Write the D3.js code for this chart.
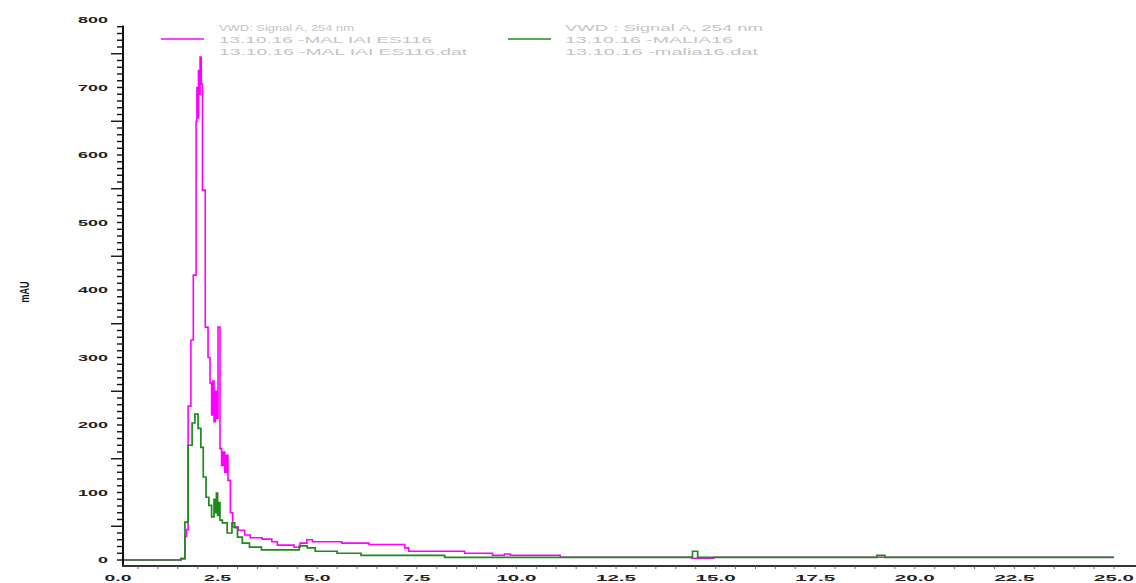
<!DOCTYPE html>
<html>
<head>
<meta charset="utf-8">
<script src="https://cdn.jsdelivr.net/npm/d3@7"></script>
<style>
    body { margin: 0; background: #fff; }
    text { font-family: "Liberation Sans", Arial, sans-serif; }
</style>
</head>
<body>
<div id="chart"></div>
<script>

// Chromatogram traces (retention time in min, absorbance in mAU)
const timeMagenta = [0.13, 1.58, 1.68, 1.72, 1.76, 1.83, 1.89, 1.96, 1.98, 2.00, 2.02, 2.04, 2.06, 2.09, 2.12,
    2.19, 2.26, 2.31, 2.35, 2.38, 2.41, 2.44, 2.47, 2.51, 2.56, 2.60, 2.64, 2.68, 2.72, 2.76, 2.82, 2.88,
    3.02, 3.18, 3.32, 3.62, 3.86, 4.00, 4.42, 4.57, 4.74, 4.88, 5.27, 5.62, 6.30, 7.20, 7.30, 8.70, 9.40,
    9.70, 9.85, 11.10, 14.40, 14.95, 25.0];
const valueMagenta = [0, 2, 35, 45, 228, 326, 422, 650, 700, 655, 725, 690, 745, 705, 548,
    345, 300, 262, 215, 265, 205, 250, 210, 345, 165, 140, 160, 130, 155, 118, 70, 49,
    44, 37, 33, 31, 27, 22, 19, 25, 30, 27, 27, 25, 23, 18, 13, 10, 7,
    9, 7, 4, 2.5, 4, 4];

const timeGreen = [0.13, 1.58, 1.68, 1.76, 1.86, 1.93, 2.01, 2.08, 2.14, 2.21, 2.28, 2.35, 2.38, 2.41, 2.44,
    2.47, 2.50, 2.53, 2.56, 2.62, 2.74, 2.86, 2.93, 3.00, 3.12, 3.30, 3.60, 4.55, 4.75, 4.95, 5.50, 6.10,
    8.20, 14.42, 14.55, 19.05, 19.25, 25.0];
const valueGreen = [0, 2, 56, 170, 203, 216, 195, 167, 123, 93, 81, 64, 64, 90, 70,
    99, 66, 85, 59, 55, 40, 55, 48, 34, 25, 19, 15, 21, 18, 13, 10, 7,
    4, 13, 4, 7, 4, 4];

// Axis labels
const xTickValues = [0, 2.5, 5, 7.5, 10, 12.5, 15, 17.5, 20, 22.5, 25];
const yTickValues = [0, 100, 200, 300, 400, 500, 600, 700, 800];

// Legend entries
const legendMagenta = ["VWD: Signal A, 254 nm", "13.10.16 -MAL IAI ES116", "13.10.16 -MAL IAI ES116.dat"];
const legendGreen = ["VWD : Signal A, 254 nm", "13.10.16 -MALIA16", "13.10.16 -malia16.dat"];


let width = 1136, height = 583;

let svg = d3.select("#chart").append("svg")
    .attr("width", width)
    .attr("height", height);

// Scales
let x = d3.scaleLinear().domain([0, 25]).range([118, 1114]);
let y = d3.scaleLinear().domain([0, 800]).range([560, 20]);

let axisX = 123, axisY = 566;

// Traces
let line = d3.line()
    .x(d => x(d[0]))
    .y(d => y(d[1]))
    .curve(d3.curveStepAfter);

svg.append("path")
    .datum(d3.zip(timeMagenta, valueMagenta))
    .attr("fill", "none")
    .attr("stroke", "#ff00ff")
    .attr("stroke-width", 1.6)
    .attr("d", line);

svg.append("path")
    .datum(d3.zip(timeGreen, valueGreen))
    .attr("fill", "none")
    .attr("stroke", "#1e8a1e")
    .attr("stroke-width", 1.7)
    .attr("d", line);

// Y axis: minor ticks every 10, longer ones on the 50s
let yAxis = svg.append("g").attr("class", "y-axis");
yAxis.append("line")
    .attr("x1", axisX).attr("x2", axisX)
    .attr("y1", y(792)).attr("y2", axisY)
    .attr("stroke", "#111").attr("stroke-width", 2);

yAxis.selectAll(".ytick")
    .data(d3.range(0, 791, 10))
    .join("line")
    .attr("class", "ytick")
    .attr("x1", d => d % 100 === 50 ? axisX - 12 : axisX - 6)
    .attr("x2", axisX)
    .attr("y1", d => y(d)).attr("y2", d => y(d))
    .attr("stroke", "#111").attr("stroke-width", 1.4);

yAxis.selectAll(".ylabel")
    .data(yTickValues)
    .join("text")
    .attr("class", "ylabel")
    .attr("x", 108)
    .attr("y", d => y(d) + 3)
    .attr("text-anchor", "end")
    .attr("font-size", 8.5)
    .attr("font-weight", "bold")
    .attr("fill", "#222")
    .attr("textLength", d => String(d).length * 10)
    .attr("lengthAdjust", "spacingAndGlyphs")
    .text(d => d);

// Axis title
svg.append("text")
    .attr("transform", "translate(29,292) scale(1.5,1) rotate(-90)")
    .attr("text-anchor", "middle")
    .attr("font-size", 9)
    .attr("font-weight", "bold")
    .attr("fill", "#111")
    .text("mAU");

// X axis: ticks every 0.5 min, labels every 2.5
let xAxis = svg.append("g").attr("class", "x-axis");
xAxis.append("line")
    .attr("x1", axisX - 1).attr("x2", width)
    .attr("y1", axisY).attr("y2", axisY)
    .attr("stroke", "#333").attr("stroke-width", 2);

xAxis.selectAll(".xtick")
    .data(d3.range(0.5, 25.01, 0.5))
    .join("line")
    .attr("class", "xtick")
    .attr("x1", d => x(d)).attr("x2", d => x(d))
    .attr("y1", axisY).attr("y2", axisY + 3)
    .attr("stroke", "#666").attr("stroke-width", 1);

xAxis.selectAll(".xlabel")
    .data(xTickValues)
    .join("text")
    .attr("class", "xlabel")
    .attr("x", d => x(d))
    .attr("y", 581)
    .attr("text-anchor", "middle")
    .attr("font-size", 8.5)
    .attr("font-weight", "bold")
    .attr("fill", "#222")
    .attr("textLength", d => d >= 10 ? 40 : 27)
    .attr("lengthAdjust", "spacingAndGlyphs")
    .text(d => d.toFixed(1));

// Legend
function drawLegend(lines, color, x0, xText, lengths) {
    svg.append("line")
        .attr("x1", x0).attr("x2", x0 + 43)
        .attr("y1", 39).attr("y2", 39)
        .attr("stroke", color).attr("stroke-width", 1.6);

    svg.selectAll(null)
        .data(lines)
        .join("text")
        .attr("x", xText)
        .attr("y", (d, i) => 31 + i * 12)
        .attr("font-size", 9.5)
        .attr("fill", "#c4c4c4")
        .attr("textLength", (d, i) => lengths[i])
        .attr("lengthAdjust", "spacingAndGlyphs")
        .text(d => d);
}

drawLegend(legendMagenta, "#ff00ff", 161, 219, [135, 213, 248]);
drawLegend(legendGreen, "#1e8a1e", 508, 565, [198, 168, 193]);

</script>
</body>
</html>
